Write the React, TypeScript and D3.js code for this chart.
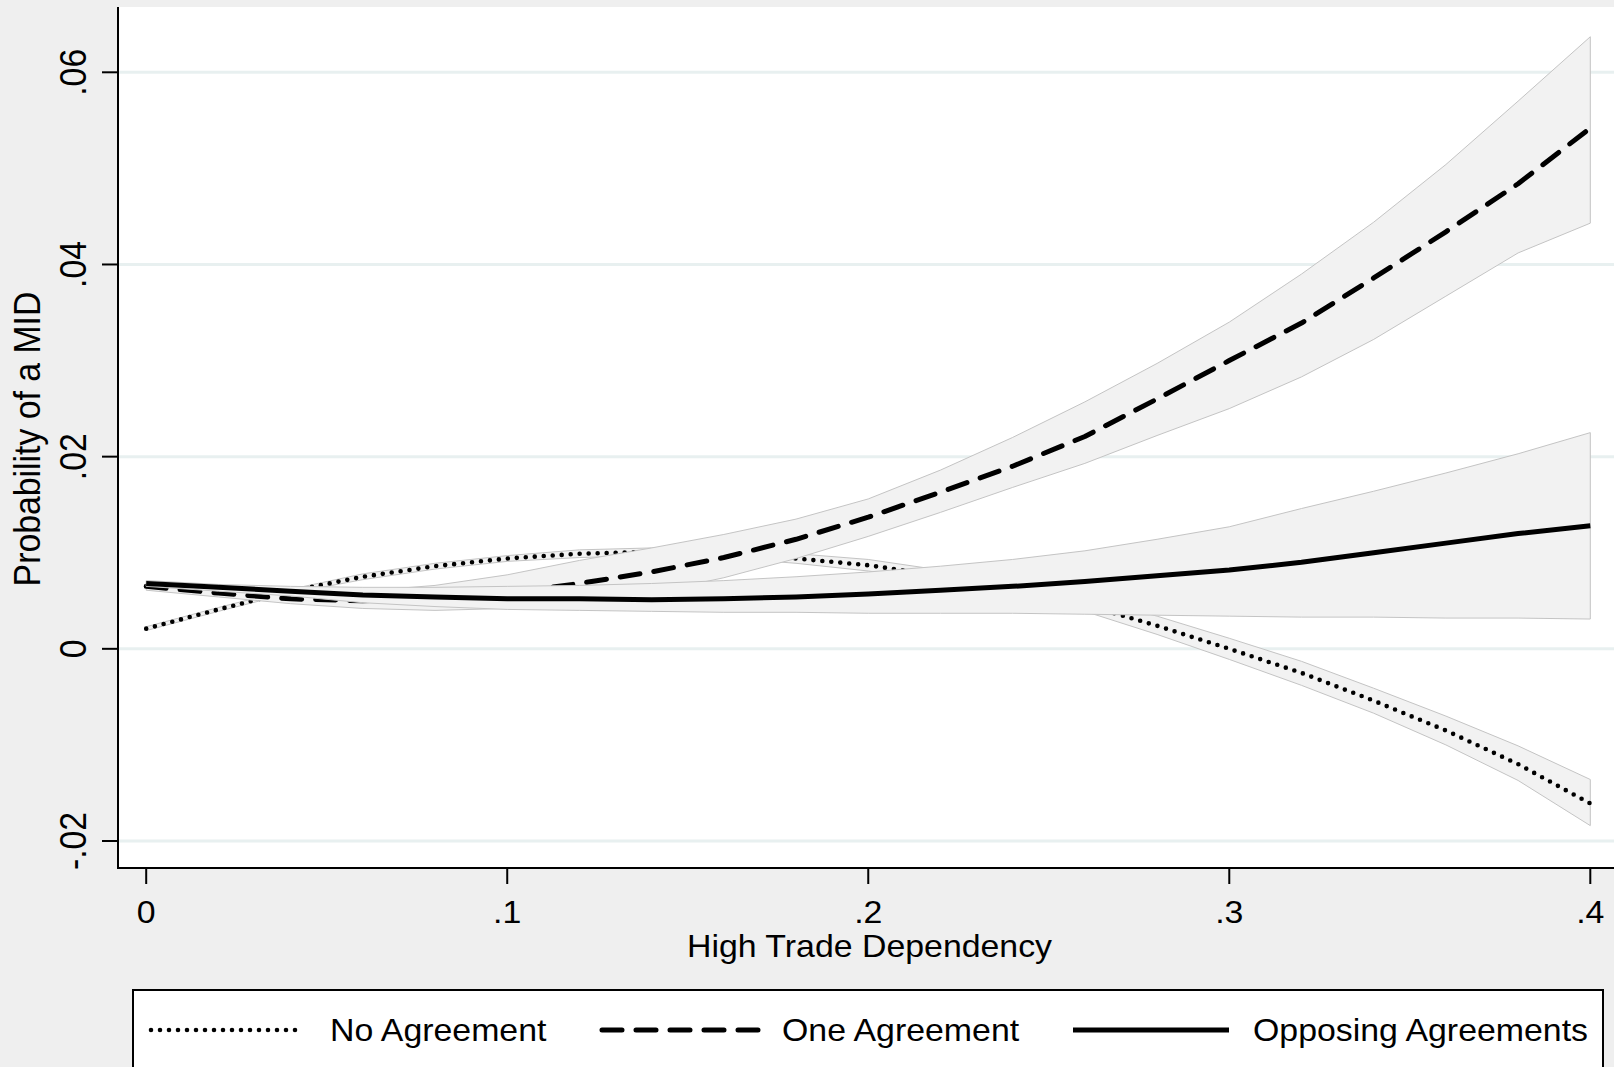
import React from "react";
import * as d3 from "d3";

const xs = [0, 0.02, 0.04, 0.06, 0.08, 0.1, 0.12, 0.14, 0.16, 0.18, 0.2, 0.22, 0.24, 0.26, 0.28, 0.3, 0.32, 0.34, 0.36, 0.38, 0.4];

const noMean = [0.0021, 0.0041, 0.006, 0.0075, 0.0086, 0.0094, 0.0099, 0.0101, 0.0099, 0.0094, 0.0087, 0.0076, 0.0063, 0.0046, 0.0024, 0.0, -0.0025, -0.0054, -0.0085, -0.012, -0.0161];
const noHi = [0.0023, 0.0043, 0.0062, 0.0078, 0.0089, 0.0097, 0.0103, 0.0105, 0.0103, 0.0099, 0.0093, 0.0082, 0.007, 0.0053, 0.0034, 0.0011, -0.0013, -0.0041, -0.007, -0.0101, -0.0136];
const noLo = [0.0019, 0.0039, 0.0058, 0.0072, 0.0083, 0.0091, 0.0095, 0.0097, 0.0095, 0.0089, 0.0081, 0.007, 0.0056, 0.0039, 0.0015, -0.0011, -0.0038, -0.0067, -0.01, -0.0137, -0.0184];

const oneMean = [0.0065, 0.0058, 0.0052, 0.005, 0.0052, 0.0058, 0.0068, 0.008, 0.0095, 0.0114, 0.0137, 0.0163, 0.019, 0.0221, 0.026, 0.03, 0.0339, 0.0386, 0.0434, 0.0484, 0.0542];
const oneHi = [0.0068, 0.0063, 0.0059, 0.006, 0.0066, 0.0077, 0.0092, 0.0105, 0.0119, 0.0135, 0.0156, 0.0186, 0.022, 0.0257, 0.0297, 0.034, 0.039, 0.0444, 0.0504, 0.057, 0.0637];
const oneLo = [0.0061, 0.0054, 0.0047, 0.0042, 0.004, 0.0042, 0.0048, 0.0058, 0.0074, 0.0094, 0.0117, 0.0142, 0.0168, 0.0193, 0.0222, 0.025, 0.0283, 0.0322, 0.0367, 0.0412, 0.0443];

const oppMean = [0.0068, 0.0064, 0.006, 0.0056, 0.0054, 0.0052, 0.0052, 0.0051, 0.0052, 0.0054, 0.0057, 0.0061, 0.0065, 0.007, 0.0076, 0.0082, 0.009, 0.01, 0.011, 0.012, 0.0128];
const oppHi = [0.0071, 0.0067, 0.0065, 0.0064, 0.0064, 0.0065, 0.0066, 0.0068, 0.0071, 0.0075, 0.008, 0.0086, 0.0093, 0.0102, 0.0114, 0.0127, 0.0146, 0.0164, 0.0183, 0.0203, 0.0225];
const oppLo = [0.0065, 0.006, 0.0055, 0.0048, 0.0044, 0.0041, 0.004, 0.0039, 0.0038, 0.0038, 0.0037, 0.0037, 0.0037, 0.0036, 0.0035, 0.0034, 0.0033, 0.0033, 0.0032, 0.0032, 0.0031];

const xTicks = [0, 0.1, 0.2, 0.3, 0.4];
const xTickLabels = ["0", ".1", ".2", ".3", ".4"];
const yTicks = [-0.02, 0, 0.02, 0.04, 0.06];
const yTickLabels = ["-.02", "0", ".02", ".04", ".06"];

const seriesNames = ["No Agreement", "One Agreement", "Opposing Agreements"];
const xTitle = "High Trade Dependency";
const yTitle = "Probability of a MID";

const W = 1614;
const H = 1067;
const FONT = "'Liberation Sans', Arial, sans-serif";

export default function App() {
  const plotL = 118, plotT = 7, plotB = 868;
  const x = d3.scaleLinear().domain([0, 0.4]).range([146.2, 1590.3]);
  const y = d3.scaleLinear().domain([-0.02, 0.06]).range([841, 72.3]);

  const line = (vals: number[]) =>
    d3.line<number>().x((_, i) => x(xs[i])).y((v) => y(v))(vals) || "";
  const area = (lo: number[], hi: number[]) =>
    d3.area<number>().x((_, i) => x(xs[i])).y0((_, i) => y(lo[i])).y1((_, i) => y(hi[i]))(lo) + "Z";

  const bandFill = "#f2f2f2";
  const bandStroke = "#c4c4c4";
  const styles = [
    { dash: "0 9", width: 4.6, cap: "round" as const },
    { dash: "20 14", width: 5, cap: "round" as const },
    { dash: "none", width: 5, cap: "butt" as const },
  ];
  const series = [
    { mean: noMean, lo: noLo, hi: noHi },
    { mean: oneMean, lo: oneLo, hi: oneHi },
    { mean: oppMean, lo: oppLo, hi: oppHi },
  ];

  const hText = (txt: string, tx: number, ty: number, anchor: string, size = 30.5, sx = 1.11) => (
    <text
      key={txt + tx}
      transform={`translate(${tx},${ty}) scale(${sx},1)`}
      textAnchor={anchor}
      fontFamily={FONT}
      fontSize={size}
      fill="#000"
    >
      {txt}
    </text>
  );

  const vText = (txt: string, tx: number, ty: number, size = 33.8, sy = 1.1) => (
    <text
      key={txt + ty}
      transform={`translate(${tx},${ty}) rotate(-90) scale(1,${sy})`}
      textAnchor="middle"
      fontFamily={FONT}
      fontSize={size}
      fill="#000"
    >
      {txt}
    </text>
  );

  const legendY = 1030;
  const legendItems = [
    { x1: 151, x2: 304, tx: 330 },
    { x1: 602, x2: 760, tx: 782 },
    { x1: 1073, x2: 1229, tx: 1253 },
  ];

  return (
    <div style={{ position: "absolute", left: 0, top: 0 }}>
      <svg width={W} height={H} viewBox={`0 0 ${W} ${H}`} style={{ display: "block" }}>
        <rect x={0} y={0} width={W} height={H} fill="#efefef" />
        <rect x={plotL} y={plotT} width={W - plotL} height={plotB - plotT} fill="#ffffff" />
        {yTicks.map((t) => (
          <line key={"g" + t} x1={plotL} x2={W} y1={y(t)} y2={y(t)} stroke="#e8f0f0" strokeWidth={3} />
        ))}
        {series.map((s, i) => (
          <g key={"s" + i}>
            <path d={area(s.lo, s.hi)} fill={bandFill} stroke={bandStroke} strokeWidth={1} />
            <path
              d={line(s.mean)}
              fill="none"
              stroke="#000"
              strokeWidth={styles[i].width}
              strokeDasharray={styles[i].dash}
              strokeLinecap={styles[i].cap}
              strokeLinejoin="round"
            />
          </g>
        ))}
        <line x1={plotL} x2={plotL} y1={plotT} y2={plotB + 1} stroke="#000" strokeWidth={2} />
        <line x1={plotL - 1} x2={W} y1={plotB} y2={plotB} stroke="#000" strokeWidth={2} />
        {yTicks.map((t) => (
          <line key={"yt" + t} x1={plotL - 16} x2={plotL} y1={y(t)} y2={y(t)} stroke="#000" strokeWidth={2} />
        ))}
        {xTicks.map((t) => (
          <line key={"xt" + t} x1={x(t)} x2={x(t)} y1={plotB} y2={plotB + 16} stroke="#000" strokeWidth={2} />
        ))}
        {xTicks.map((t, i) => hText(xTickLabels[i], x(t), 923, "middle"))}
        {yTicks.map((t, i) => vText(yTickLabels[i], 86, y(t)))}
        {hText(xTitle, 869.5, 957, "middle")}
        {vText(yTitle, 40, 439)}
        <rect x={133} y={990} width={1470} height={120} fill="#ffffff" stroke="#000" strokeWidth={2} />
        {legendItems.map((it, i) => (
          <g key={"l" + i}>
            <line
              x1={it.x1}
              x2={it.x2}
              y1={legendY}
              y2={legendY}
              stroke="#000"
              strokeWidth={styles[i].width}
              strokeDasharray={styles[i].dash}
              strokeLinecap={styles[i].cap}
            />
            {hText(seriesNames[i], it.tx, legendY + 11, "start")}
          </g>
        ))}
      </svg>
    </div>
  );
}
